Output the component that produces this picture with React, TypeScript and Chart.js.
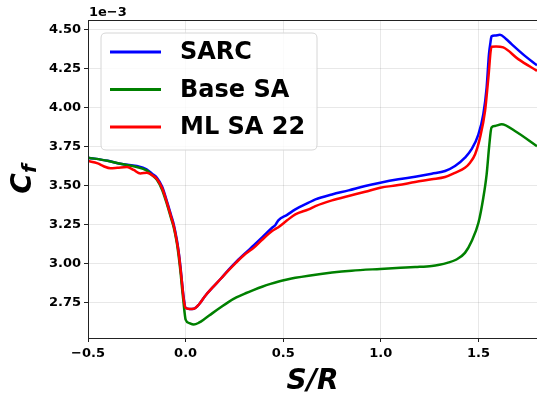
import React, { useEffect, useRef } from "react";
import { Chart, registerables } from "chart.js";

Chart.register(...registerables);

// ---- data (Cf in units of 1e-3) ----
const seriesLabels = ["SARC", "Base SA", "ML SA 22"];
const seriesColors = ["#0000ff", "#008000", "#ff0000"];

const sarcS = [-0.5, -0.4, -0.334, -0.25, -0.2, -0.172, -0.147, -0.12, -0.096, -0.075, -0.061, -0.045, -0.036, -0.025, -0.019, -0.01, 0.0, 0.02, 0.042, 0.068, 0.1, 0.136, 0.18, 0.221, 0.26, 0.307, 0.35, 0.392, 0.443, 0.46, 0.475, 0.52, 0.562, 0.63, 0.665, 0.75, 0.835, 0.92, 0.997, 1.09, 1.176, 1.261, 1.329, 1.38, 1.431, 1.465, 1.5, 1.525, 1.542, 1.554, 1.562, 1.567, 1.585, 1.61, 1.64, 1.67, 1.738, 1.8];
const sarcCf = [3.677, 3.657, 3.638, 3.623, 3.602, 3.574, 3.548, 3.49, 3.398, 3.31, 3.25, 3.15, 3.077, 2.96, 2.884, 2.78, 2.713, 2.706, 2.708, 2.735, 2.79, 2.841, 2.9, 2.959, 3.01, 3.066, 3.115, 3.165, 3.227, 3.245, 3.275, 3.31, 3.345, 3.388, 3.409, 3.441, 3.467, 3.495, 3.516, 3.538, 3.555, 3.574, 3.591, 3.623, 3.677, 3.731, 3.827, 3.956, 4.127, 4.341, 4.42, 4.455, 4.46, 4.465, 4.44, 4.405, 4.33, 4.27];

const baseS = [-0.5, -0.4, -0.334, -0.25, -0.2, -0.172, -0.147, -0.12, -0.096, -0.075, -0.061, -0.045, -0.036, -0.025, -0.019, -0.01, -0.004, 0.0, 0.02, 0.042, 0.068, 0.1, 0.136, 0.18, 0.221, 0.26, 0.307, 0.35, 0.392, 0.435, 0.477, 0.52, 0.562, 0.63, 0.75, 0.85, 0.997, 1.1, 1.176, 1.261, 1.3, 1.34, 1.385, 1.431, 1.465, 1.5, 1.525, 1.542, 1.555, 1.567, 1.585, 1.619, 1.687, 1.8];
const baseCf = [3.677, 3.657, 3.638, 3.617, 3.595, 3.565, 3.535, 3.47, 3.38, 3.29, 3.23, 3.13, 3.05, 2.93, 2.85, 2.74, 2.67, 2.638, 2.615, 2.606, 2.618, 2.645, 2.678, 2.717, 2.752, 2.78, 2.807, 2.829, 2.849, 2.867, 2.882, 2.895, 2.906, 2.92, 2.94, 2.952, 2.963, 2.97, 2.975, 2.982, 2.99, 3.002, 3.022, 3.066, 3.141, 3.259, 3.42, 3.57, 3.75, 3.87, 3.88, 3.891, 3.848, 3.75];

const mlS = [-0.5, -0.45, -0.42, -0.385, -0.35, -0.3, -0.266, -0.232, -0.198, -0.172, -0.147, -0.12, -0.096, -0.075, -0.061, -0.045, -0.036, -0.025, -0.019, -0.01, 0.0, 0.02, 0.042, 0.068, 0.1, 0.136, 0.18, 0.221, 0.26, 0.307, 0.35, 0.392, 0.443, 0.46, 0.475, 0.52, 0.562, 0.63, 0.665, 0.75, 0.835, 0.92, 0.997, 1.09, 1.176, 1.261, 1.329, 1.38, 1.431, 1.457, 1.483, 1.508, 1.534, 1.551, 1.567, 1.59, 1.627, 1.704, 1.8];
const mlCf = [3.655, 3.64, 3.622, 3.609, 3.612, 3.617, 3.598, 3.576, 3.58, 3.565, 3.54, 3.48, 3.39, 3.3, 3.24, 3.14, 3.07, 2.95, 2.88, 2.77, 2.713, 2.706, 2.708, 2.735, 2.79, 2.841, 2.9, 2.955, 3.005, 3.06, 3.1, 3.15, 3.206, 3.22, 3.231, 3.275, 3.313, 3.345, 3.366, 3.403, 3.431, 3.458, 3.484, 3.501, 3.521, 3.538, 3.553, 3.58, 3.612, 3.645, 3.699, 3.805, 3.977, 4.191, 4.388, 4.39, 4.384, 4.309, 4.234];

const xMin = -0.5;
const xMax = 1.8;
const yMin = 2.52;
const yMax = 4.56;
const xStep = 0.5;
const yStep = 0.25;
const offsetText = "1e\u22123";
const xTitle = "S/R";
const yTitleMain = "C";
const yTitleSub = "f";

const FONT = "'DejaVu Sans', sans-serif";

const fmtMinus = (s: string) => s.replace("-", "\u2212");

const decorPlugin = {
  id: "decor",
  afterDraw(chart: any) {
    const ctx = chart.ctx as CanvasRenderingContext2D;
    const a = chart.chartArea;
    ctx.save();
    // frame (spines)
    ctx.strokeStyle = "#222";
    ctx.lineWidth = 1;
    ctx.strokeRect(Math.round(a.left) + 0.5, Math.round(a.top) + 0.5, Math.round(a.right - a.left), Math.round(a.bottom - a.top));

    // offset text
    ctx.fillStyle = "#000";
    ctx.font = `bold 13px ${FONT}`;
    ctx.textAlign = "left";
    ctx.textBaseline = "alphabetic";
    ctx.fillText(offsetText, a.left + 1, a.top - 4);

    // x title
    ctx.font = `italic bold 28px ${FONT}`;
    ctx.textAlign = "center";
    ctx.fillText(xTitle, (a.left + a.right) / 2, 389);

    // y title (rotated) C_f
    ctx.save();
    ctx.translate(31, (a.top + a.bottom) / 2);
    ctx.rotate(-Math.PI / 2);
    ctx.font = `italic bold 28px ${FONT}`;
    const wC = ctx.measureText(yTitleMain).width;
    ctx.font = `italic bold 20px ${FONT}`;
    const wf = ctx.measureText(yTitleSub).width;
    const total = wC + wf;
    ctx.textAlign = "left";
    ctx.font = `italic bold 28px ${FONT}`;
    ctx.fillText(yTitleMain, -total / 2, 0);
    ctx.font = `italic bold 20px ${FONT}`;
    ctx.fillText(yTitleSub, -total / 2 + wC, 5);
    ctx.restore();

    // legend
    const bx = 101, by = 33, bw = 216, bh = 117, r = 5;
    ctx.beginPath();
    ctx.moveTo(bx + r, by);
    ctx.lineTo(bx + bw - r, by);
    ctx.quadraticCurveTo(bx + bw, by, bx + bw, by + r);
    ctx.lineTo(bx + bw, by + bh - r);
    ctx.quadraticCurveTo(bx + bw, by + bh, bx + bw - r, by + bh);
    ctx.lineTo(bx + r, by + bh);
    ctx.quadraticCurveTo(bx, by + bh, bx, by + bh - r);
    ctx.lineTo(bx, by + r);
    ctx.quadraticCurveTo(bx, by, bx + r, by);
    ctx.closePath();
    ctx.fillStyle = "rgba(255,255,255,0.8)";
    ctx.fill();
    ctx.strokeStyle = "#d6d6d6";
    ctx.lineWidth = 1;
    ctx.stroke();

    const ds = chart.data.datasets;
    const rowY = [52, 89.5, 127];
    ctx.font = `bold 24px ${FONT}`;
    ctx.textAlign = "left";
    ctx.textBaseline = "middle";
    ds.forEach((d: any, i: number) => {
      const y = rowY[i];
      ctx.strokeStyle = d.borderColor;
      ctx.lineWidth = 3;
      ctx.beginPath();
      ctx.moveTo(110, y);
      ctx.lineTo(161, y);
      ctx.stroke();
      ctx.fillStyle = "#000";
      ctx.fillText(d.label, 180, y + 1);
    });
    ctx.restore();
  },
};

export default function App() {
  const ref = useRef<HTMLCanvasElement>(null);
  useEffect(() => {
    const toPts = (s: number[], c: number[]) => s.map((x, i) => ({ x, y: c[i] }));
    const sets = [toPts(sarcS, sarcCf), toPts(baseS, baseCf), toPts(mlS, mlCf)];
    const orders = [3, 2, 1];
    const chart = new Chart(ref.current!, {
      type: "line",
      data: {
        datasets: sets.map((data, i) => ({
          label: seriesLabels[i],
          data,
          borderColor: seriesColors[i],
          backgroundColor: seriesColors[i],
          borderWidth: 2.5,
          pointRadius: 0,
          fill: false,
          cubicInterpolationMode: "monotone" as const,
          order: orders[i],
        })),
      },
      options: {
        animation: false,
        responsive: false,
        layout: { padding: { top: 20, right: 0, left: 0, bottom: 0 } },
        plugins: { legend: { display: false }, tooltip: { enabled: false } },
        scales: {
          x: {
            type: "linear",
            min: xMin,
            max: xMax,
            afterFit: (s: any) => { s.height = 62; },
            ticks: {
              stepSize: xStep,
              includeBounds: false,
              color: "#000",
              font: { family: FONT, size: 13, weight: "bold" },
              padding: 4,
              maxRotation: 0,
              callback: (v: any) => fmtMinus(Number(v).toFixed(1)),
            },
            grid: { color: "rgba(0,0,0,0.09)", tickColor: "#222", tickLength: 4 },
            border: { color: "#222", width: 1 },
          },
          y: {
            type: "linear",
            min: yMin,
            max: yMax,
            afterFit: (s: any) => { s.width = 88; },
            ticks: {
              stepSize: yStep,
              includeBounds: false,
              color: "#000",
              font: { family: FONT, size: 13, weight: "bold" },
              padding: 3,
              callback: (v: any) => Number(v).toFixed(2),
            },
            grid: { color: "rgba(0,0,0,0.09)", tickColor: "#222", tickLength: 4 },
            border: { color: "#222", width: 1 },
          },
        },
      },
      plugins: [decorPlugin],
    });
    return () => chart.destroy();
  }, []);
  return (
    <div style={{ position: "absolute", left: 0, top: 0, width: 537, height: 400, background: "#fff" }}>
      <canvas ref={ref} width={537} height={400} />
    </div>
  );
}
